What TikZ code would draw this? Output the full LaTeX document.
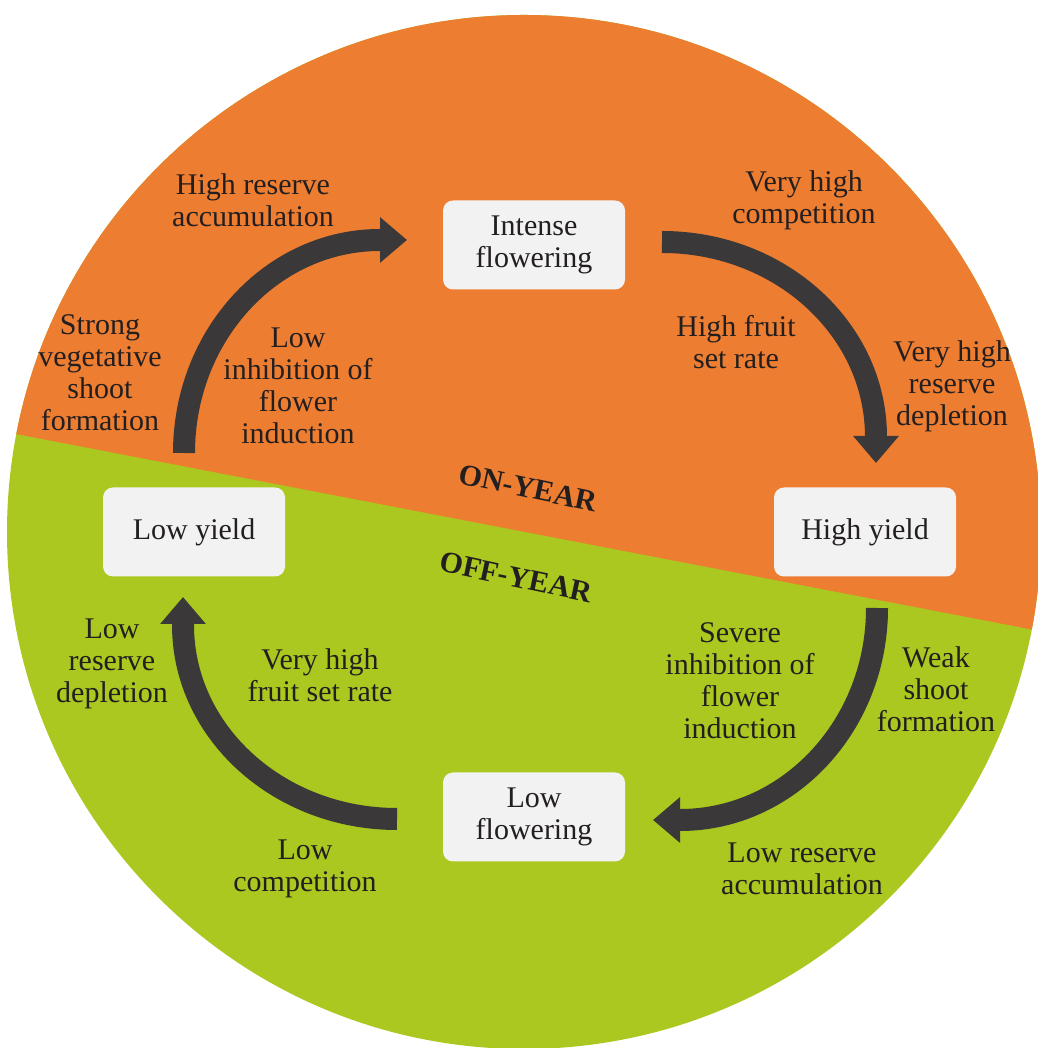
\documentclass[tikz,border=0pt]{standalone}
\usepackage{fontspec}
\setmainfont{Liberation Serif}
\usepackage{xcolor}
\definecolor{altorange}{HTML}{ED7D31}
\definecolor{altgreen}{HTML}{AAC81F}
\definecolor{altbox}{HTML}{F2F2F2}
\definecolor{altarrow}{HTML}{3A3838}
\definecolor{alttext}{HTML}{231F20}
\usepackage{tikz}
\usetikzlibrary{arrows.meta}
\newcommand{\altfont}{\fontsize{30}{32}\selectfont}
\tikzset{
  altstage/.style={fill=altbox,rounded corners=10pt,minimum width=182pt,minimum height=89pt,align=center,inner sep=0pt,font=\altfont,text=alttext},
  altflow/.style={-{Triangle[width=44pt,length=27pt]},line width=22pt,draw=altarrow},
  altlabel/.style={align=center,font=\altfont,text=alttext,inner sep=0pt},
  altyear/.style={font=\altfont\bfseries,text=alttext,inner sep=0pt,rotate=-12},
}

\begin{document}
\begin{tikzpicture}[x=1pt,y=1pt]
\useasboundingbox (0,0) rectangle (1037,1048);
% the two halves of the year disc
\fill[altgreen] (524,516) circle[radius=517pt];
\begin{scope}
  \clip (524,516) circle[radius=517pt];
  \fill[altorange] (-10,619) -- (1050,415) -- (1050,1060) -- (-10,1060) -- cycle;
\end{scope}
\node[altyear] (onyear) at (528,560) {ON-YEAR};
\node[altyear] (offyear) at (516,471) {OFF-YEAR};
% stages
\node[altstage] (intense) at (534,803) {Intense\\flowering};
\node[altstage] (highyield) at (865,516) {High yield};
\node[altstage] (lowyield) at (194,516) {Low yield};
\node[altstage] (lowflower) at (534,231) {Low\\flowering};
% arrow ends
\coordinate (lowyieldout) at (184,595);
\coordinate (intenseout) at (662,806);
\coordinate (highyieldout) at (877,440);
\coordinate (lowflowerout) at (397,229);
\draw[altflow] (lowyieldout) arc[start angle=180,end angle=90,x radius=196pt,y radius=213pt] -- ++(27,0);
\draw[altflow] (intenseout) arc[start angle=90,end angle=0,x radius=214pt,y radius=195pt] -- ++(0,-26);
\draw[altflow] (highyieldout) arc[start angle=0,end angle=-90,x radius=197pt,y radius=212pt] -- ++(-27,0);
\draw[altflow] (lowflowerout) arc[start angle=-90,end angle=-180,x radius=214pt,y radius=194pt] -- ++(0,28);
% labels
\node[altlabel] (highres) at (253,848) {High reserve\\accumulation};
\node[altlabel] (vhcomp) at (804,848) {Very high\\competition};
\node[altlabel] (strongveg) at (100,675) {Strong\\vegetative\\shoot\\formation};
\node[altlabel] (lowinhib) at (298,662) {Low\\inhibition of\\flower\\induction};
\node[altlabel] (highset) at (736,706) {High fruit\\set rate};
\node[altlabel] (vhdepl) at (952,662) {Very high\\reserve\\depletion};
\node[altlabel] (lowdepl) at (112,384) {Low\\reserve\\depletion};
\node[altlabel] (vhset) at (320,373) {Very high\\fruit set rate};
\node[altlabel] (severe) at (740,367) {Severe\\inhibition of\\flower\\induction};
\node[altlabel] (weakshoot) at (936,359) {Weak\\shoot\\formation};
\node[altlabel] (lowcomp) at (305,179) {Low\\competition};
\node[altlabel] (lowacc) at (802,179) {Low reserve\\accumulation};
\end{tikzpicture}
\end{document}
